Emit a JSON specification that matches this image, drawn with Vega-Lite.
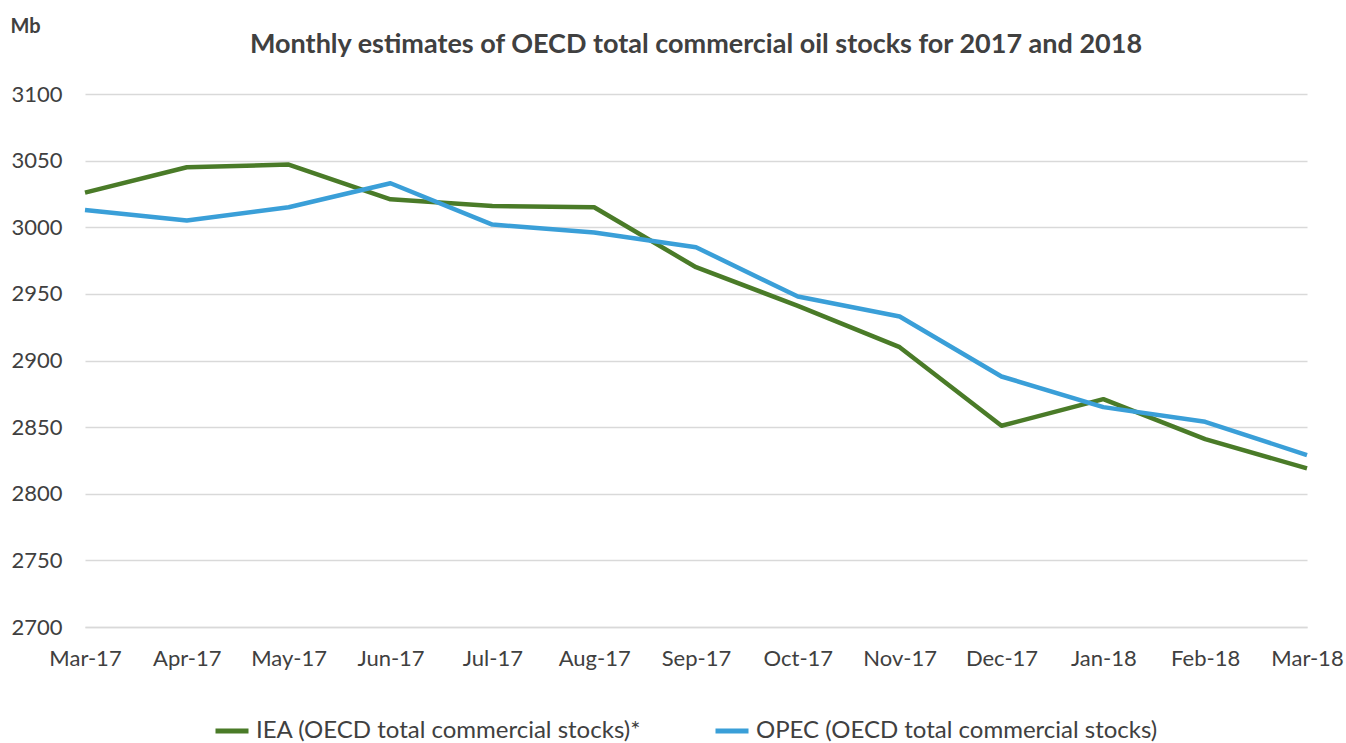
{
  "$schema": "https://vega.github.io/schema/vega-lite/v6.json",
  "width": 1222,
  "height": 533,
  "autosize": {"type": "none"},
  "padding": {"left": 85, "top": 94, "right": 39, "bottom": 116},
  "background": "white",
  "config": {
    "font": "Lato",
    "view": {"stroke": null}
  },
  "title": {
    "text": "Monthly estimates of OECD total commercial oil stocks for 2017 and 2018",
    "fontSize": 27,
    "fontWeight": "bold",
    "color": "#404040",
    "anchor": "middle",
    "offset": -43,
    "font": "Lato"
  },
  "data": {
    "values": [
      {"month": "Mar-17", "series": "IEA (OECD total commercial stocks)*", "value": 3026},
      {"month": "Apr-17", "series": "IEA (OECD total commercial stocks)*", "value": 3045},
      {"month": "May-17", "series": "IEA (OECD total commercial stocks)*", "value": 3047},
      {"month": "Jun-17", "series": "IEA (OECD total commercial stocks)*", "value": 3021},
      {"month": "Jul-17", "series": "IEA (OECD total commercial stocks)*", "value": 3016},
      {"month": "Aug-17", "series": "IEA (OECD total commercial stocks)*", "value": 3015},
      {"month": "Sep-17", "series": "IEA (OECD total commercial stocks)*", "value": 2970},
      {"month": "Oct-17", "series": "IEA (OECD total commercial stocks)*", "value": 2941},
      {"month": "Nov-17", "series": "IEA (OECD total commercial stocks)*", "value": 2910},
      {"month": "Dec-17", "series": "IEA (OECD total commercial stocks)*", "value": 2851},
      {"month": "Jan-18", "series": "IEA (OECD total commercial stocks)*", "value": 2871},
      {"month": "Feb-18", "series": "IEA (OECD total commercial stocks)*", "value": 2841},
      {"month": "Mar-18", "series": "IEA (OECD total commercial stocks)*", "value": 2819},
      {"month": "Mar-17", "series": "OPEC (OECD total commercial stocks)", "value": 3013},
      {"month": "Apr-17", "series": "OPEC (OECD total commercial stocks)", "value": 3005},
      {"month": "May-17", "series": "OPEC (OECD total commercial stocks)", "value": 3015},
      {"month": "Jun-17", "series": "OPEC (OECD total commercial stocks)", "value": 3033},
      {"month": "Jul-17", "series": "OPEC (OECD total commercial stocks)", "value": 3002},
      {"month": "Aug-17", "series": "OPEC (OECD total commercial stocks)", "value": 2996},
      {"month": "Sep-17", "series": "OPEC (OECD total commercial stocks)", "value": 2985},
      {"month": "Oct-17", "series": "OPEC (OECD total commercial stocks)", "value": 2948},
      {"month": "Nov-17", "series": "OPEC (OECD total commercial stocks)", "value": 2933},
      {"month": "Dec-17", "series": "OPEC (OECD total commercial stocks)", "value": 2888},
      {"month": "Jan-18", "series": "OPEC (OECD total commercial stocks)", "value": 2865},
      {"month": "Feb-18", "series": "OPEC (OECD total commercial stocks)", "value": 2854},
      {"month": "Mar-18", "series": "OPEC (OECD total commercial stocks)", "value": 2829}
    ]
  },
  "mark": {"type": "line", "strokeWidth": 4.5, "strokeJoin": "round"},
  "encoding": {
    "x": {
      "field": "month",
      "type": "ordinal",
      "sort": ["Mar-17","Apr-17","May-17","Jun-17","Jul-17","Aug-17","Sep-17","Oct-17","Nov-17","Dec-17","Jan-18","Feb-18","Mar-18"],
      "scale": {"type": "point", "padding": 0},
      "axis": {
        "title": null,
        "labelAngle": 0,
        "labelFontSize": 22,
        "labelColor": "#404040",
        "labelPadding": 21,
        "ticks": false,
        "domain": true,
        "domainColor": "#d9d9d9",
        "domainWidth": 1.5,
        "grid": false,
        "labelFont": "Lato"
      }
    },
    "y": {
      "field": "value",
      "type": "quantitative",
      "scale": {"domain": [2700, 3100], "nice": false, "zero": false},
      "axis": {
        "title": "Mb",
        "titleAngle": 0,
        "titleAlign": "left",
        "titleBaseline": "alphabetic",
        "titleX": -75,
        "titleY": -62,
        "titleFontSize": 20,
        "titleFontWeight": "bold",
        "titleColor": "#404040",
        "values": [2700, 2750, 2800, 2850, 2900, 2950, 3000, 3050, 3100],
        "format": "d",
        "labelFontSize": 22,
        "labelColor": "#404040",
        "labelPadding": 23,
        "ticks": false,
        "domain": false,
        "grid": true,
        "gridColor": "#d9d9d9",
        "gridWidth": 1.5,
        "labelFont": "Lato"
      }
    },
    "color": {
      "field": "series",
      "type": "nominal",
      "scale": {
        "domain": ["IEA (OECD total commercial stocks)*", "OPEC (OECD total commercial stocks)"],
        "range": ["#4a7b28", "#3a9fd8"]
      },
      "legend": {
        "title": null,
        "orient": "none",
        "direction": "horizontal",
        "legendX": 128,
        "legendY": 618,
        "symbolType": "stroke",
        "symbolSize": 1089,
        "symbolStrokeWidth": 5,
        "labelFontSize": 24,
        "labelColor": "#404040",
        "labelOffset": 5,
        "labelLimit": 600,
        "columnPadding": 63,
        "labelFont": "Lato"
      }
    }
  }
}
